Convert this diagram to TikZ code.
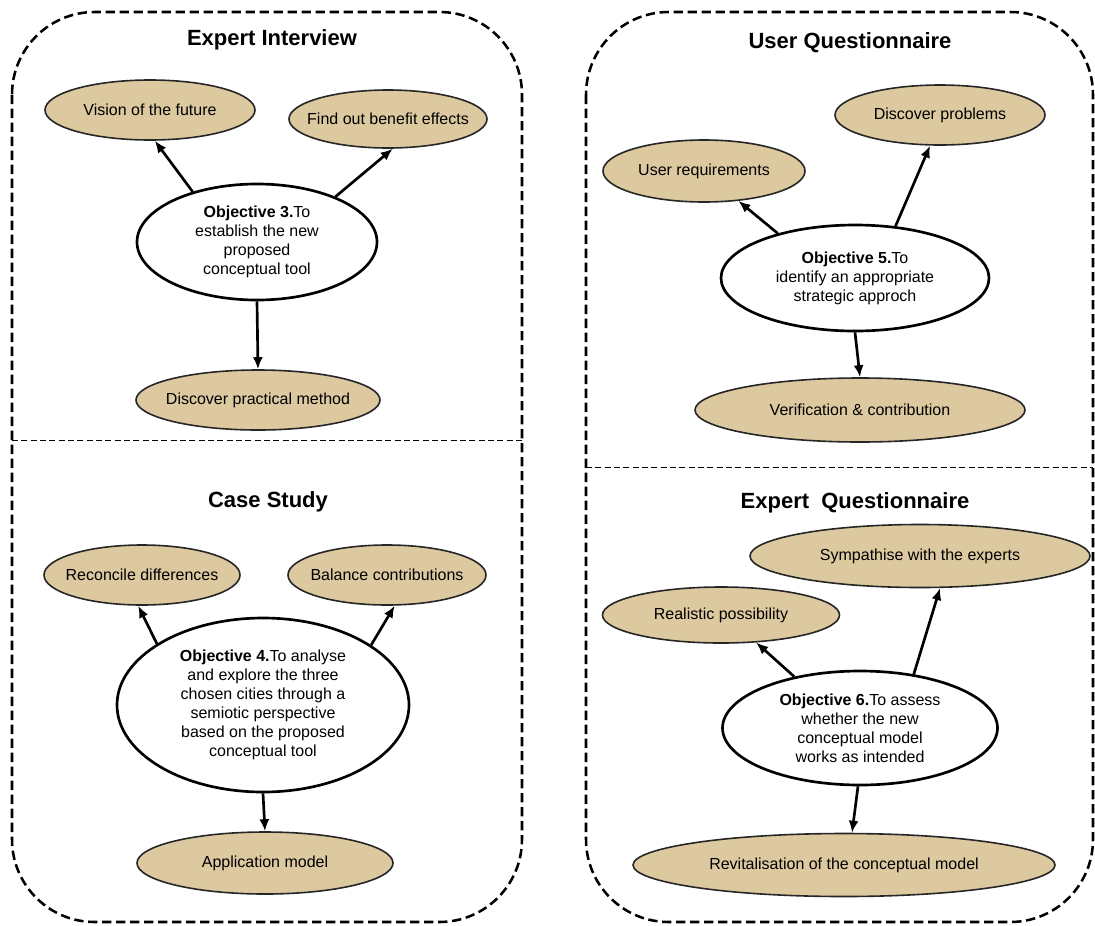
\documentclass[tikz,border=0pt]{standalone}
\usepackage{fontspec}
\setmainfont{Liberation Sans}
\usetikzlibrary{shapes.geometric,arrows.meta}
\definecolor{ovalfill}{RGB}{221,201,160}
\newcommand\pxu{0.75pt}

\begin{document}
\begin{tikzpicture}[
  x=0.75pt, y=-0.75pt,
  oval/.style={ellipse, draw=black!85, line width=1.2pt, fill=ovalfill, inner xsep=-10pt, inner ysep=0pt, font=\fontsize{12}{14}\selectfont},
  goal/.style={ellipse, draw, line width=2pt, fill=white, inner sep=0pt, align=center, font=\fontsize{12}{14.3}\selectfont},
  title/.style={font=\fontsize{16.5}{18}\selectfont\bfseries},
  panel/.style={draw, line width=1.9pt, rounded corners=62pt, dash pattern=on 7pt off 3.5pt},
  divider/.style={draw, line width=0.7pt, dash pattern=on 4.5pt off 2.5pt},
  arr/.style={-{Latex[length=9pt,width=7.5pt]}, line width=2pt}
]
\useasboundingbox (0,0) rectangle (1095,925);

% panels
\draw[panel] (12,12) rectangle (522,922);
\draw[panel] (586,12) rectangle (1093,922);
\draw[divider] (12,440) -- (522,440);
\draw[divider] (586,467) -- (1093,467);

% Expert Interview
\node[title] (interview) at (272,40) {Expert Interview};
\node[oval, minimum width=210*\pxu, minimum height=60*\pxu] (vision) at (150,110) {Vision of the future};
\node[oval, minimum width=198*\pxu, minimum height=58*\pxu] (benefit) at (388,119) {Find out benefit effects};
\node[goal, minimum width=240*\pxu, minimum height=116*\pxu] (obj3) at (257,242) {\textbf{Objective 3.}To\\establish the new\\proposed\\conceptual tool};
\node[oval, minimum width=244*\pxu, minimum height=60*\pxu] (practical) at (258,400) {Discover practical method};

\draw[arr] (obj3.142) -- (vision.-81);
\draw[arr] (obj3.30) -- (benefit.-81);
\draw[arr] (obj3.south) -- (practical.north);

% Case Study
\node[title] (casestudy) at (268,502) {Case Study};
\node[oval, minimum width=196*\pxu, minimum height=60*\pxu] (reconcile) at (142,575) {Reconcile differences};
\node[oval, minimum width=198*\pxu, minimum height=60*\pxu] (balance) at (387,575) {Balance contributions};
\node[goal, minimum width=292*\pxu, minimum height=174*\pxu] (obj4) at (263,705) {\textbf{Objective 4.}To analyse\\and explore the three\\chosen cities through a\\semiotic perspective\\based on the proposed\\conceptual tool};
\node[oval, minimum width=256*\pxu, minimum height=62*\pxu] (appmodel) at (265,863) {Application model};

\draw[arr] (obj4.150) -- (reconcile.-97);
\draw[arr] (obj4.29) -- (balance.-76);
\draw[arr] (obj4.south) -- (appmodel.north);

% User Questionnaire
\node[title] (userq) at (850,43) {User Questionnaire};
\node[oval, minimum width=210*\pxu, minimum height=60*\pxu] (problems) at (940,115) {Discover problems};
\node[oval, minimum width=202*\pxu, minimum height=62*\pxu] (userreq) at (704,171) {User requirements};
\node[goal, minimum width=268*\pxu, minimum height=106*\pxu] (obj5) at (855,278) {\textbf{Objective 5.}To\\identify an appropriate\\strategic approch};
\node[oval, minimum width=330*\pxu, minimum height=64*\pxu] (verify) at (860,410) {Verification \& contribution};

\draw[arr] (obj5.150) -- (userreq.-41);
\draw[arr] (obj5.52) -- (problems.-108);
\draw[arr] (obj5.south) -- (verify.north);

% Expert Questionnaire
\node[title] (expertq) at (855,503) {Expert\ \ Questionnaire};
\node[oval, minimum width=340*\pxu, minimum height=63*\pxu] (sympathise) at (920,556) {Sympathise with the experts};
\node[oval, minimum width=237*\pxu, minimum height=56*\pxu] (realistic) at (721,615) {Realistic possibility};
\node[goal, minimum width=275*\pxu, minimum height=114*\pxu] (obj6) at (860,728) {\textbf{Objective 6.}To assess\\whether the new\\conceptual model\\works as intended};
\node[oval, minimum width=422*\pxu, minimum height=63*\pxu] (revital) at (844,865) {Revitalisation of the conceptual model};

\draw[arr] (obj6.142) -- (realistic.-38);
\draw[arr] (obj6.45) -- (sympathise.-58);
\draw[arr] (obj6.-92) -- (revital.76);
\end{tikzpicture}
\end{document}
